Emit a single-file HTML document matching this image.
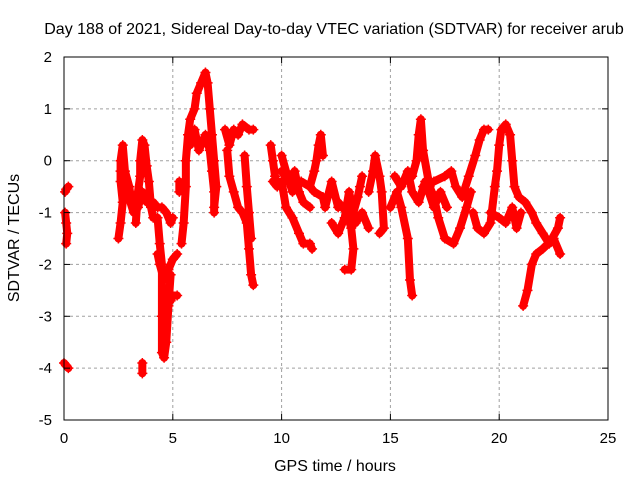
<!DOCTYPE html>
<html><head><meta charset="utf-8"><style>
body{margin:0;background:#fff;}
svg{display:block;font-family:"Liberation Sans",sans-serif;}
</style></head><body>
<svg id="chart" width="640" height="480">
<rect width="640" height="480" fill="#fff"/>
<g id="grid"></g>
<g id="marks"></g>
<rect x="64" y="57" width="544" height="363" fill="none" stroke="#000" stroke-width="1"/>
<g id="ticks"></g>
<text x="334" y="34" font-size="16" text-anchor="middle">Day 188 of 2021, Sidereal Day-to-day VTEC variation (SDTVAR) for receiver arub</text>
<text x="335" y="471" font-size="16" text-anchor="middle">GPS time / hours</text>
<text x="0" y="0" font-size="16" text-anchor="middle" transform="translate(19,238) rotate(-90)">SDTVAR / TECUs</text>
</svg>
<script>
const xTicks=[0,5,10,15,20,25];
const yTicks=[2,1,0,-1,-2,-3,-4,-5];
const track1=[[0.05,-0.6],[0.1,-0.55],[0.2,-0.5]];
const track2=[[0.05,-1.0],[0.1,-1.2],[0.15,-1.4],[0.1,-1.6]];
const track3=[[0.0,-3.9],[0.1,-3.95],[0.2,-4.0]];
const track4=[[2.5,-1.5],[2.6,-1.2],[2.7,-0.8],[2.6,-0.4],[2.6,0.0],[2.7,0.3],[2.8,-0.2],[3.0,-0.5],[3.1,-0.8]];
const track5=[[3.3,-1.2],[3.4,-0.6],[3.5,-0.3],[3.5,0.0],[3.6,0.4],[3.7,0.3],[3.8,-0.1],[3.9,-0.4],[4.0,-0.9],[4.1,-1.1],[4.3,-1.1],[4.4,-1.6],[4.5,-2.0],[4.5,-3.0],[4.5,-3.7],[4.6,-3.8],[4.7,-3.5],[4.8,-2.8],[4.9,-2.2]];
const track6=[[4.1,-0.8],[4.3,-0.9],[4.5,-0.9],[4.7,-1.0],[4.9,-1.2],[5.0,-1.1]];
const track7=[[4.3,-1.8],[4.4,-2.0],[4.6,-2.3],[4.8,-2.1],[5.0,-1.9],[5.2,-1.8]];
const track8=[[4.9,-2.7],[5.0,-2.6],[5.2,-2.6]];
const track9=[[3.6,-3.9],[3.6,-4.1]];
const track10=[[5.3,-0.6],[5.3,-0.4]];
const track11=[[5.4,-1.6],[5.5,-1.2],[5.6,-0.5],[5.6,0.0],[5.7,0.5],[5.8,0.8],[6.0,1.0],[6.1,1.3],[6.3,1.5],[6.5,1.7],[6.6,1.5],[6.7,1.0],[6.8,0.5],[6.9,0.0],[7.0,-0.5],[6.9,-0.9]];
const track12=[[5.8,0.3],[6.0,0.6],[6.2,0.2],[6.4,0.4],[6.5,0.5],[6.7,0.2],[6.8,-0.2],[6.9,-0.6],[6.9,-1.0]];
const track13=[[7.4,0.6],[7.6,0.3],[7.8,0.6],[8.0,0.5],[8.2,0.7],[8.5,0.6],[8.7,0.6]];
const track14=[[7.5,0.2],[7.6,-0.3],[7.8,-0.6],[8.0,-0.9],[8.2,-1.0],[8.4,-1.2],[8.5,-1.7],[8.6,-2.2],[8.7,-2.4]];
const track15=[[8.3,0.1],[8.4,-0.5],[8.5,-1.0],[8.6,-1.5]];
const track16=[[9.5,0.3],[9.6,0.0],[9.7,-0.3],[9.8,-0.5],[9.6,-0.4]];
const track17=[[10.0,0.1],[10.2,-0.2],[10.5,-0.6],[10.9,-0.4],[11.3,-0.5],[11.5,-0.6],[11.9,-0.7],[12.0,-0.9],[12.3,-0.4],[12.6,-0.9]];
const track18=[[10.0,-0.4],[10.2,-0.9],[10.5,-1.1],[10.8,-1.4],[11.0,-1.6],[11.3,-1.6],[11.4,-1.7]];
const track19=[[11.3,-0.5],[11.5,-0.2],[11.6,0.0],[11.7,0.3],[11.8,0.5],[11.9,0.1]];
const track20=[[12.6,-0.8],[12.8,-0.9],[13.0,-1.0],[13.2,-1.3],[13.3,-1.7],[13.2,-2.1],[12.9,-2.1]];
const track21=[[13.3,-1.0],[13.5,-0.7],[13.6,-0.5],[13.7,-0.3]];
const track22=[[14.0,-0.6],[14.2,-0.2],[14.3,0.1],[14.5,-0.3],[14.6,-0.6],[14.7,-1.3],[14.5,-1.4]];
const track23=[[15.0,-0.9],[15.3,-0.6],[15.5,-0.9],[15.8,-1.5],[15.9,-2.3],[16.0,-2.6]];
const track24=[[15.6,-0.4],[16.0,-0.3],[16.2,0.0],[16.3,0.5],[16.4,0.8],[16.5,0.2],[16.8,-0.5],[17.0,-0.7],[17.2,-1.1],[17.5,-1.5],[17.9,-1.6],[18.2,-1.3],[18.5,-0.9],[18.7,-0.6]];
const track25=[[16.5,-0.5],[17.0,-0.4],[17.5,-0.3],[17.8,-0.2],[18.0,-0.5],[18.3,-0.7],[18.6,-0.3],[18.9,0.1],[19.1,0.4],[19.3,0.6],[19.5,0.6]];
const track26=[[18.8,-1.0],[19.0,-1.3],[19.3,-1.4],[19.6,-1.2],[19.8,-0.5],[19.9,-0.2],[20.0,0.3],[20.1,0.6],[20.3,0.7],[20.5,0.5],[20.6,0.0],[20.7,-0.5],[20.9,-0.7],[21.2,-0.8],[21.5,-1.0],[21.7,-1.2],[22.0,-1.4],[22.3,-1.6],[22.7,-1.3],[22.8,-1.1]];
const track27=[[21.1,-2.8],[21.3,-2.5],[21.5,-2.0],[21.7,-1.8],[22.0,-1.7],[22.5,-1.5],[22.8,-1.8]];
const track28=[[19.6,-1.0],[20.0,-1.1],[20.3,-1.2],[20.6,-0.9],[20.8,-1.3],[21.0,-1.0]];
const track29=[[10.0,-0.2],[10.3,-0.4],[10.6,-0.2],[10.8,-0.6],[11.0,-0.8],[11.3,-0.9]];
const track30=[[15.2,-0.3],[15.5,-0.5],[15.8,-0.2],[16.0,-0.6],[16.3,-0.8],[16.6,-0.4],[17.0,-0.9],[17.3,-0.6],[17.6,-0.9]];
const track31=[[12.3,-1.2],[12.6,-1.4],[12.9,-1.1],[13.1,-0.6],[13.4,-1.2],[13.7,-1.0],[14.0,-1.3]];
const track32=[[2.6,-0.2],[2.9,-0.6],[3.2,-1.0],[3.4,-0.9],[3.6,-0.6],[3.8,-0.8]];
const tracks=[track1,track2,track3,track4,track5,track6,track7,track8,track9,track10,track11,track12,track13,track14,track15,track16,track17,track18,track19,track20,track21,track22,track23,track24,track25,track26,track27,track28,track29,track30,track31,track32];

const NS="http://www.w3.org/2000/svg";
const X0=64,X1=608,Y0=420,Y1=57;
function xs(t){return X0+(t-0)/(25-0)*(X1-X0);}
function ys(v){return Y0-(v+5)/(2+5)*(Y0-Y1);}
const grid=document.getElementById('grid'),ticks=document.getElementById('ticks'),marks=document.getElementById('marks');
function mk(tag,attrs,parent){const e=document.createElementNS(NS,tag);for(const k in attrs)e.setAttribute(k,attrs[k]);parent.appendChild(e);return e;}
xTicks.forEach(t=>{
  const x=xs(t);
  if(t>0&&t<25){const g=mk('line',{x1:x,x2:x,y1:Y1,y2:Y0,stroke:'#a0a0a0','stroke-dasharray':'3,3'},grid);
  
  }
  mk('line',{x1:x,x2:x,y1:Y0,y2:Y0-6,stroke:'#000'},ticks);
  mk('line',{x1:x,x2:x,y1:Y1,y2:Y1+6,stroke:'#000'},ticks);
  const l=mk('text',{x:x,y:443,'font-size':15,'text-anchor':'middle'},ticks);
  l.textContent=t;
  
  
});
yTicks.forEach(v=>{
  const y=ys(v);
  if(v<2&&v>-5){const g=mk('line',{x1:X0,x2:X1,y1:y,y2:y,stroke:'#a0a0a0','stroke-dasharray':'3,3'},grid);
  
  }
  mk('line',{x1:X0,x2:X0+6,y1:y,y2:y,stroke:'#000'},ticks);
  mk('line',{x1:X1,x2:X1-6,y1:y,y2:y,stroke:'#000'},ticks);
  const l=mk('text',{x:52,y:y+5,'font-size':15,'text-anchor':'end'},ticks);
  l.textContent=v;
  
  
});
tracks.forEach((tr,i)=>{
  const g=mk('g',{},marks);
  
  
  mk('polyline',{points:tr.map(p=>xs(p[0])+','+ys(p[1])).join(' '),fill:'none',stroke:'#ff0000','stroke-width':8,'stroke-linejoin':'round','stroke-linecap':'round'},g);
  tr.forEach(p=>{
    const x=xs(p[0]),y=ys(p[1]);
    mk('path',{d:`M${x-5},${y}H${x+5}M${x},${y-5}V${y+5}`,stroke:'#ff0000','stroke-width':1.5},g);
  });
});
</script>
</body></html>
